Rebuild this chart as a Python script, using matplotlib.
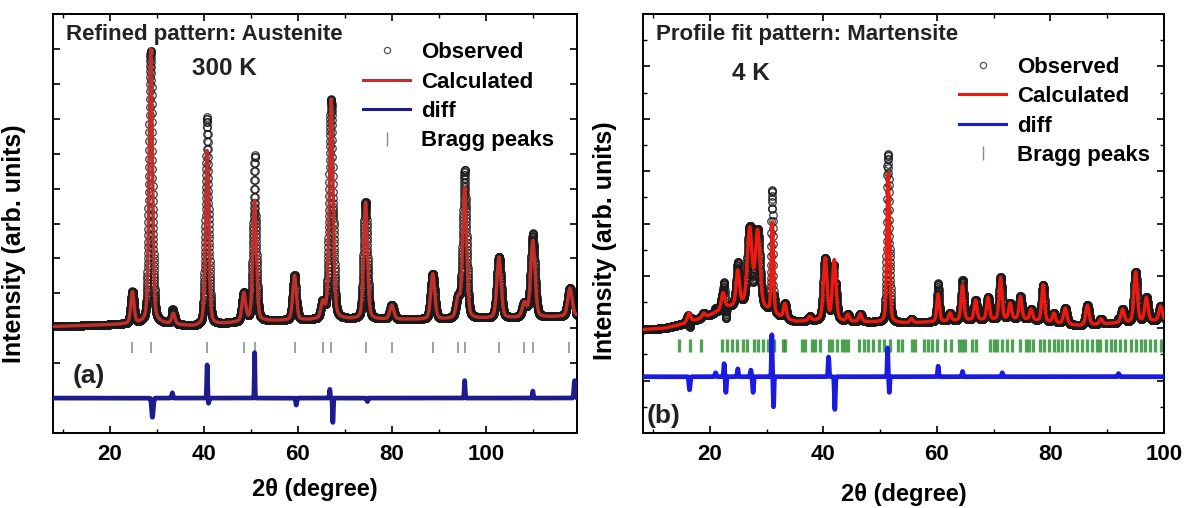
import numpy as np
import matplotlib
matplotlib.use("Agg")
import matplotlib.pyplot as plt
from matplotlib.lines import Line2D
from matplotlib.ticker import MultipleLocator

plt.rcParams['font.family'] = ['Liberation Sans', 'DejaVu Sans']
plt.rcParams['font.weight'] = 'bold'

# ---------------- Panel (a): Austenite, 300 K ----------------
xlim_a = (7.9, 119.4)
bg_a_x = [7.9, 20, 30, 38, 50, 70, 90, 110, 119.4]
bg_a_y = [3.05, 3.1, 3.15, 3.05, 3.2, 3.25, 3.25, 3.3, 3.35]
peak_a_pos = [24.8, 28.7, 33.5, 40.7, 48.5, 50.8, 59.3, 65.3, 67.1, 74.4,
              80.0, 88.7, 94.1, 95.5, 102.8, 108.2, 110.0, 117.9]
peak_a_height = [0.9, 7.85, 0.3, 5.0, 0.8, 3.45, 1.28, 0.45, 6.3, 3.35,
                 0.4, 1.3, 0.55, 3.75, 1.75, 0.4, 2.2, 0.8]
peak_a_fwhm = [0.8, 0.85, 0.8, 0.85, 0.9, 0.9, 0.9, 0.9, 0.95, 0.95,
               1.0, 1.0, 1.0, 1.0, 1.05, 1.05, 1.1, 1.1]
bragg_a = [24.8, 28.7, 40.7, 48.5, 50.8, 59.3, 65.3, 67.1, 74.4, 80.0,
           88.7, 94.1, 95.5, 102.8, 108.2, 110.0, 117.7]
diff_a_pos = [29.05, 33.3, 40.7, 41.0, 50.8, 59.65, 66.8, 67.45, 74.8, 95.5, 110.0, 118.9]
diff_a_amp = [-0.55, 0.15, 0.95, -0.15, 1.3, -0.2, 0.25, -0.7, -0.1, 0.5, 0.2, 0.5]
diff_a_fwhm = [0.4, 0.25, 0.2, 0.2, 0.16, 0.25, 0.2, 0.2, 0.25, 0.2, 0.2, 0.35]
diff_a_offset = 1.0

# ---------------- Panel (b): Martensite, 4 K ----------------
xlim_b = (8.2, 100.0)
bg_b_x = [8.2, 12, 16, 20, 23, 26, 29, 32, 35, 40, 45, 55, 65, 75, 85, 92, 100]
bg_b_y = [3.95, 4.0, 4.2, 4.5, 4.8, 4.9, 4.8, 4.45, 4.25, 4.3, 4.25, 4.2, 4.3, 4.35, 4.1, 4.2, 4.3]
peak_b_pos = [16.3, 18.9, 22.3, 24.9, 27.0, 28.4, 31.0, 33.2, 37.6, 40.3, 41.9,
              44.3, 46.5, 51.4, 55.5, 60.2, 62.3, 64.5, 66.8, 69.0, 71.2, 72.9,
              74.7, 76.6, 78.7, 80.6, 82.6, 86.5, 88.9, 92.7, 95.0, 96.9, 99.4]
peak_b_height = [0.35, 0.15, 0.6, 1.3, 2.9, 2.85, 3.45, 0.55, 0.15, 2.35, 2.3,
                 0.25, 0.3, 5.7, 0.15, 1.05, 0.3, 1.35, 0.75, 0.85, 1.6, 0.6,
                 0.85, 0.4, 1.4, 0.35, 0.6, 0.75, 0.2, 0.5, 1.9, 0.9, 0.55]
peak_b_fwhm = [0.7, 0.6, 0.7, 0.7, 0.95, 0.95, 0.45, 0.6, 0.6, 0.75, 0.75,
               0.6, 0.6, 0.55, 0.6, 0.55, 0.6, 0.6, 0.6, 0.6, 0.6, 0.6,
               0.6, 0.6, 0.6, 0.6, 0.7, 0.7, 0.6, 0.7, 0.7, 0.7, 0.7]
bragg_b = [14.5, 16.5, 18.4, 22.1, 23.0, 23.8, 24.7, 25.8, 26.6, 27.7, 28.5, 29.4,
           30.3, 31.2, 32.9, 33.2, 36.2, 36.8, 37.9, 38.5, 39.4, 40.9, 41.5, 42.3,
           43.2, 43.8, 44.4, 46.2, 47.1, 47.9, 48.8, 49.7, 50.6, 51.8, 53.2, 53.8,
           55.6, 56.2, 57.7, 58.4, 59.1, 60.0, 61.5, 62.4, 63.8, 64.4, 65.0, 66.2,
           66.8, 69.4, 70.0, 70.6, 71.5, 72.3, 73.2, 74.7, 75.6, 76.2, 77.0, 78.2,
           78.8, 79.7, 80.6, 81.4, 82.0, 82.9, 83.8, 84.7, 85.6, 86.4, 87.3, 88.2,
           88.8, 89.7, 90.6, 91.4, 92.3, 93.2, 94.1, 95.0, 95.9, 96.7, 97.6, 98.5, 99.4]
diff_b_pos = [16.4, 21.0, 22.5, 22.8, 24.9, 27.2, 27.6, 30.9, 31.2, 40.9, 42.0,
              51.3, 51.6, 60.2, 64.5, 71.5, 92.0]
diff_b_amp = [-0.5, 0.15, 0.5, -0.6, 0.3, 0.25, -0.6, 1.6, -1.15, 0.75, -1.25,
              1.1, -0.6, 0.4, 0.2, 0.15, 0.12]
diff_b_fwhm = [0.25, 0.25, 0.2, 0.2, 0.2, 0.2, 0.2, 0.16, 0.16, 0.2, 0.2,
               0.16, 0.16, 0.2, 0.2, 0.2, 0.25]
diff_b_offset = 2.15

xticks = [20, 40, 60, 80, 100]
step = 0.02


def pseudo_voigt(x, pos, height, fwhm, eta=0.3):
    y = np.zeros_like(x)
    for p, h, w in zip(pos, height, fwhm):
        g = np.exp(-4 * np.log(2) * ((x - p) / w) ** 2)
        l = 1.0 / (1.0 + 4 * ((x - p) / w) ** 2)
        y += h * ((1 - eta) * g + eta * l)
    return y


def spikes(x, pos, amp, fwhm):
    y = np.zeros_like(x)
    for p, a, w in zip(pos, amp, fwhm):
        y += a * np.exp(-4 * np.log(2) * ((x - p) / w) ** 2)
    return y


fig = plt.figure(figsize=(11.84, 5.08), dpi=100)
ax_a = fig.add_axes([53 / 1184, 75 / 508, 524 / 1184, 419 / 508])
ax_b = fig.add_axes([643 / 1184, 75 / 508, 521 / 1184, 419 / 508])

cfg = [
    dict(ax=ax_a, xlim=xlim_a, ylim=(0, 12), bgx=bg_a_x, bgy=bg_a_y,
         ppos=peak_a_pos, ph=peak_a_height, pw=peak_a_fwhm, bragg=bragg_a,
         dpos=diff_a_pos, damp=diff_a_amp, dw=diff_a_fwhm, doff=diff_a_offset,
         bragg_y=(2.3, 2.62), calc_c='#c0302a', diff_c='#1c1c8c', bragg_c='#7f8f80',
         bragg_lw=1.4, title='Refined pattern: Austenite', temp='300 K',
         temp_xy=(0.328, 0.871), lab='(a)', lab_xy=(0.069, 0.136),
         leg_xy=(0.592, 0.933), ymaj=1, ymin=None, ylab_xy=(-0.051, 0.453),
         xlab_pad=9),
    dict(ax=ax_b, xlim=xlim_b, ylim=(0, 16), bgx=bg_b_x, bgy=bg_b_y,
         ppos=peak_b_pos, ph=peak_b_height, pw=peak_b_fwhm, bragg=bragg_b,
         dpos=diff_b_pos, damp=diff_b_amp, dw=diff_b_fwhm, doff=diff_b_offset,
         bragg_y=(3.1, 3.6), calc_c='#ee1a10', diff_c='#1a1ae0', bragg_c='#238a2a',
         bragg_lw=2.4, title='Profile fit pattern: Martensite', temp='4 K',
         temp_xy=(0.207, 0.857), lab='(b)', lab_xy=(0.040, 0.040),
         leg_xy=(0.607, 0.898), ymaj=2, ymin=1, ylab_xy=(-0.05, 0.458),
         xlab_pad=13),
]

for c in cfg:
    ax = c['ax']
    x = np.arange(c['xlim'][0], c['xlim'][1] + step, step)
    bg = np.interp(x, c['bgx'], c['bgy'])
    calc = bg + pseudo_voigt(x, c['ppos'], c['ph'], c['pw'])
    dif = spikes(x, c['dpos'], c['damp'], c['dw'])
    obs = calc + dif

    ax.plot(x, obs, ls='none', marker='o', ms=5.4, mfc='none', mec='#1a1a1a',
            mew=0.9, alpha=0.85, zorder=2)
    ax.plot(x, calc, color=c['calc_c'], lw=2.4, zorder=3)
    ax.plot(x, dif + c['doff'], color=c['diff_c'], lw=3.4, zorder=3)
    ax.vlines(c['bragg'], c['bragg_y'][0], c['bragg_y'][1], colors=c['bragg_c'],
              lw=c['bragg_lw'], alpha=0.8, zorder=2)

    ax.set_xlim(*c['xlim'])
    ax.set_ylim(*c['ylim'])
    ax.set_xticks(xticks)
    ax.xaxis.set_minor_locator(MultipleLocator(10))
    ax.yaxis.set_major_locator(MultipleLocator(c['ymaj']))
    if c['ymin']:
        ax.yaxis.set_minor_locator(MultipleLocator(c['ymin']))
    ax.set_yticklabels([])
    ax.tick_params(which='major', direction='in', top=True, right=True,
                   length=5, width=1.2, labelsize=16, pad=8)
    ax.tick_params(which='minor', direction='in', top=True, right=True,
                   length=3, width=1.0)
    for lbl in ax.get_xticklabels():
        lbl.set_fontweight('bold')
    for s in ax.spines.values():
        s.set_linewidth(1.4)

    ax.set_xlabel('2θ (degree)', fontsize=17, fontweight='bold', labelpad=c['xlab_pad'])
    ax.set_ylabel('Intensity (arb. units)', fontsize=18, fontweight='bold')
    ax.yaxis.set_label_coords(*c['ylab_xy'])

    ax.text(0.024, 0.952, c['title'], transform=ax.transAxes, fontsize=16,
            fontweight='bold', ha='left', va='center', color='#222222')
    ax.text(c['temp_xy'][0], c['temp_xy'][1], c['temp'], transform=ax.transAxes,
            fontsize=17.5, fontweight='bold', ha='center', va='center', color='#222222')
    ax.text(c['lab_xy'][0], c['lab_xy'][1], c['lab'], transform=ax.transAxes,
            fontsize=19, fontweight='bold', ha='center', va='center', color='#222222')

    handles = [
        Line2D([], [], ls='none', marker='o', ms=4.5, mfc='none', mec='#555555', mew=0.9),
        Line2D([], [], color=c['calc_c'], lw=2.2),
        Line2D([], [], color=c['diff_c'], lw=2.2),
        Line2D([], [], ls='none', marker='|', ms=10, mew=1.0, color='#888888'),
    ]
    ax.legend(handles, ['Observed', 'Calculated', 'diff', 'Bragg peaks'],
              loc='upper left', bbox_to_anchor=c['leg_xy'], frameon=False,
              borderpad=0, borderaxespad=0, handlelength=2.1, handletextpad=0.5,
              labelspacing=0.38, prop=dict(size=16, weight='bold'))

fig.savefig('out.png', dpi=100)
